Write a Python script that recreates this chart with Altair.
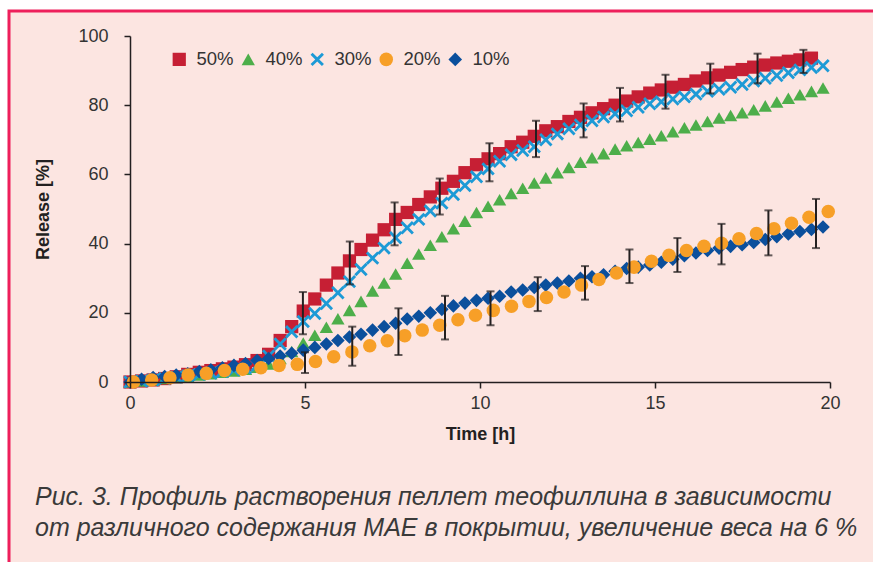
import altair as alt
import pandas as pd

# ---------------- data ----------------
SERIES = ["50%", "40%", "30%", "20%", "10%"]
COLORS = ["#c61f34", "#4dae4a", "#1d9ad6", "#f79f27", "#0b4f9c"]

TIME_DENSE = [0.0, 0.33, 0.66, 0.99, 1.32, 1.65, 1.98, 2.31, 2.64, 2.97, 3.3, 3.63,
              3.96, 4.29, 4.62, 4.95, 5.28, 5.61, 5.94, 6.27, 6.6, 6.93, 7.26, 7.59,
              7.92, 8.25, 8.58, 8.91, 9.24, 9.57, 9.9, 10.23, 10.56, 10.89, 11.22,
              11.55, 11.88, 12.21, 12.54, 12.87, 13.2, 13.53, 13.86, 14.19, 14.52,
              14.85, 15.18, 15.51, 15.84, 16.17, 16.5, 16.83, 17.16, 17.49, 17.82,
              18.15, 18.48, 18.81, 19.14, 19.47, 19.8]

TIME_20 = [0.1, 0.62, 1.14, 1.66, 2.18, 2.7, 3.22, 3.74, 4.26, 4.78, 5.3, 5.82,
           6.34, 6.85, 7.35, 7.85, 8.35, 8.85, 9.37, 9.87, 10.38, 10.9, 11.4, 11.9,
           12.4, 12.9, 13.4, 13.9, 14.4, 14.9, 15.4, 15.9, 16.4, 16.9, 17.4, 17.9,
           18.4, 18.9, 19.4, 19.95]

REL_50 = [0.0, 0.3, 0.6, 1.0, 1.5, 2.2, 2.8, 3.3, 3.8, 4.3, 5.0, 6.2, 8.0, 12.0,
          16.0, 20.5, 24.0, 28.0, 31.5, 35.0, 38.3, 41.0, 44.0, 47.0, 49.0, 51.3,
          53.5, 56.0, 58.0, 60.5, 62.8, 64.5, 66.0, 68.0, 69.3, 71.0, 72.6, 73.8,
          75.3, 76.5, 77.8, 79.0, 80.0, 81.2, 82.4, 83.5, 84.4, 85.2, 86.0, 87.0,
          87.9, 88.7, 89.5, 90.3, 91.0, 91.6, 92.2, 92.7, 93.1, 93.6]

REL_40 = [0.0, 0.3, 0.6, 1.0, 1.3, 1.7, 2.0, 2.4, 2.8, 3.2, 3.7, 4.3, 5.2, 6.8,
          8.8, 11.3, 13.5, 15.8, 18.3, 20.7, 23.3, 26.3, 28.6, 31.2, 34.3, 37.0,
          39.5, 42.0, 44.3, 46.5, 49.0, 50.8, 52.7, 54.5, 56.0, 57.5, 59.0, 60.5,
          62.0, 63.5, 64.8, 66.0, 67.3, 68.3, 69.2, 70.2, 71.2, 72.3, 73.5, 74.3,
          75.3, 76.3, 77.0, 77.8, 78.7, 79.8, 80.9, 82.0, 83.0, 84.0, 85.0]

REL_30 = [0.0, 0.3, 0.6, 1.0, 1.4, 1.8, 2.2, 2.6, 3.0, 3.5, 4.0, 4.8, 7.5, 11.0,
          14.5, 17.5, 19.8, 22.7, 25.8, 29.0, 32.5, 35.8, 38.7, 41.7, 44.6, 47.0,
          49.4, 51.7, 54.2, 56.8, 59.3, 61.6, 63.8, 65.7, 66.9, 68.0, 70.0, 71.7,
          73.2, 74.3, 75.5, 76.6, 77.5, 78.4, 79.4, 80.4, 81.0, 81.8, 82.4, 83.2,
          84.0, 84.6, 85.2, 86.0, 87.0, 87.8, 88.6, 89.4, 90.2, 90.9, 91.4]

REL_20 = [0.0, 0.6, 1.2, 2.0, 2.5, 3.3, 3.7, 4.1, 4.8, 5.1, 5.9, 7.3, 8.7, 10.5,
          11.9, 13.4, 15.0, 16.4, 18.0, 19.3, 20.7, 21.9, 23.3, 24.4, 26.0, 28.0,
          29.6, 31.5, 33.2, 34.9, 36.6, 38.0, 39.2, 40.1, 41.4, 42.9, 44.3, 45.9,
          47.6, 49.3]

REL_10 = [0.0, 0.8, 1.3, 1.6, 2.0, 2.4, 3.0, 3.5, 4.1, 4.8, 5.3, 6.2, 6.8, 7.5,
          8.3, 9.2, 10.0, 11.0, 12.0, 13.0, 13.8, 15.0, 16.0, 17.0, 18.2, 19.0,
          20.0, 21.0, 22.0, 22.8, 23.6, 24.2, 24.8, 26.0, 26.6, 27.3, 28.0, 28.6,
          29.2, 30.0, 30.4, 31.0, 32.0, 32.8, 33.2, 33.8, 34.6, 35.5, 36.5, 37.3,
          38.0, 38.7, 39.2, 39.7, 40.3, 41.2, 42.0, 42.8, 43.5, 44.1, 44.8]

ERR_T = [4.94, 6.28, 7.56, 8.85, 10.27, 11.6, 12.96, 14.0, 15.3, 16.58, 17.93, 19.24,
         5.0, 6.35, 7.67, 9.0, 10.3, 11.65, 13.0, 14.27, 15.64, 16.9, 18.24, 19.6]
ERR_LO = [13.8, 28.2, 39.5, 48.4, 58.0, 65.0, 70.7, 75.3, 79.0, 83.4, 86.3, 89.3,
          2.6, 4.7, 7.8, 12.3, 16.4, 20.5, 23.8, 28.6, 31.8, 34.0, 36.6, 38.7]
ERR_HI = [26.0, 40.6, 51.9, 58.8, 69.0, 75.5, 80.5, 85.0, 88.8, 92.0, 94.9, 96.0,
          8.6, 16.0, 21.3, 24.9, 26.2, 30.3, 33.5, 38.3, 41.6, 45.7, 49.6, 52.9]

CAPTION = ["Рис. 3. Профиль растворения пеллет теофиллина в зависимости",
           "от различного содержания МАЕ в покрытии, увеличение веса на 6 %"]

# ---------------- build tables ----------------
rows = []
for name, times, vals in [("50%", TIME_DENSE[:len(REL_50)], REL_50),
                          ("40%", TIME_DENSE, REL_40),
                          ("30%", TIME_DENSE, REL_30),
                          ("10%", TIME_DENSE, REL_10),
                          ("20%", TIME_20, REL_20)]:
    for t, v in zip(times, vals):
        rows.append({"series": name, "time": t, "release": v})
df = pd.DataFrame(rows)
err = pd.DataFrame({"time": ERR_T, "lo": ERR_LO, "hi": ERR_HI})

X_SHAPE = ("M-1,-0.7L-0.7,-1L0,-0.3L0.7,-1L1,-0.7L0.3,0L1,0.7L0.7,1L0,0.3"
           "L-0.7,1L-1,0.7L-0.3,0Z")
SHAPES = ["square", "triangle-up", X_SHAPE, "circle", "diamond"]
SIZES = [175, 185, 140, 300, 190]

FONT = "Liberation Sans"
INK = "#231f20"

xscale = alt.Scale(domain=[0, 20], nice=False)
yscale = alt.Scale(domain=[0, 100], nice=False)

frame = alt.Chart(pd.DataFrame({"f": [0]})).mark_rect(
    fill="#fce5e1", stroke="#ee1f5b", strokeWidth=3
).encode(
    x=alt.value(-121), x2=alt.value(760), y=alt.value(-25), y2=alt.value(540)
)

points = alt.Chart(df).mark_point(filled=True, opacity=1, strokeWidth=0).encode(
    x=alt.X("time:Q", scale=xscale,
            axis=alt.Axis(values=[0, 5, 10, 15, 20], title="Time [h]",
                          labelPadding=6, titlePadding=13, zindex=1,
                          labelFlush=False)),
    y=alt.Y("release:Q", scale=yscale,
            axis=alt.Axis(values=[0, 20, 40, 60, 80, 100], title="Release [%]",
                          labelPadding=16, titlePadding=25, zindex=1,
                          labelFlush=False)),
    color=alt.Color("series:N", scale=alt.Scale(domain=SERIES, range=COLORS),
                    legend=alt.Legend(title=None, orient="none", legendX=40,
                                      legendY=14, direction="horizontal",
                                      columns=5, columnPadding=5, labelOffset=8,
                                      symbolSize=175, symbolStrokeWidth=0,
                                      labelFont=FONT, labelFontSize=18.5,
                                      labelColor="#333333", padding=0)),
    shape=alt.Shape("series:N", scale=alt.Scale(domain=SERIES, range=SHAPES)),
    size=alt.Size("series:N", scale=alt.Scale(domain=SERIES, range=SIZES),
                  legend=None),
)

bars = alt.Chart(err).mark_rule(color=INK, strokeWidth=2).encode(
    x="time:Q", y="lo:Q", y2="hi:Q"
)
caps = alt.Chart(err).transform_fold(["lo", "hi"], as_=["end", "val"]).mark_tick(
    orient="horizontal", size=8, thickness=2, color=INK
).encode(x="time:Q", y="val:Q")

cap_style = dict(font=FONT, fontSize=25, fontStyle="italic", color="#3a3a3a",
                 align="left", baseline="alphabetic")
caption1 = alt.Chart(pd.DataFrame({"txt": [CAPTION[0]]})).mark_text(**cap_style).encode(
    text="txt:N", x=alt.value(-95), y=alt.value(469)
)
caption2 = alt.Chart(pd.DataFrame({"txt": [CAPTION[1]]})).mark_text(**cap_style).encode(
    text="txt:N", x=alt.value(-95), y=alt.value(500)
)

chart = alt.layer(frame, points, bars, caps, caption1, caption2).properties(
    width=700, height=346,
    autosize=alt.AutoSizeParams(type="none"),
    padding={"left": 130, "top": 36, "right": 43, "bottom": 180},
    background="white",
).configure_view(stroke=None).configure_axis(
    domainColor=INK, domainWidth=1.5, tickColor=INK, tickWidth=1.5, tickSize=6,
    labelFont=FONT, labelFontSize=18, labelColor="#333333", grid=False,
    titleFont=FONT, titleFontSize=18, titleFontWeight="bold", titleColor=INK,
)

chart.save("out.html", embed_options={"renderer": "svg", "actions": False})
